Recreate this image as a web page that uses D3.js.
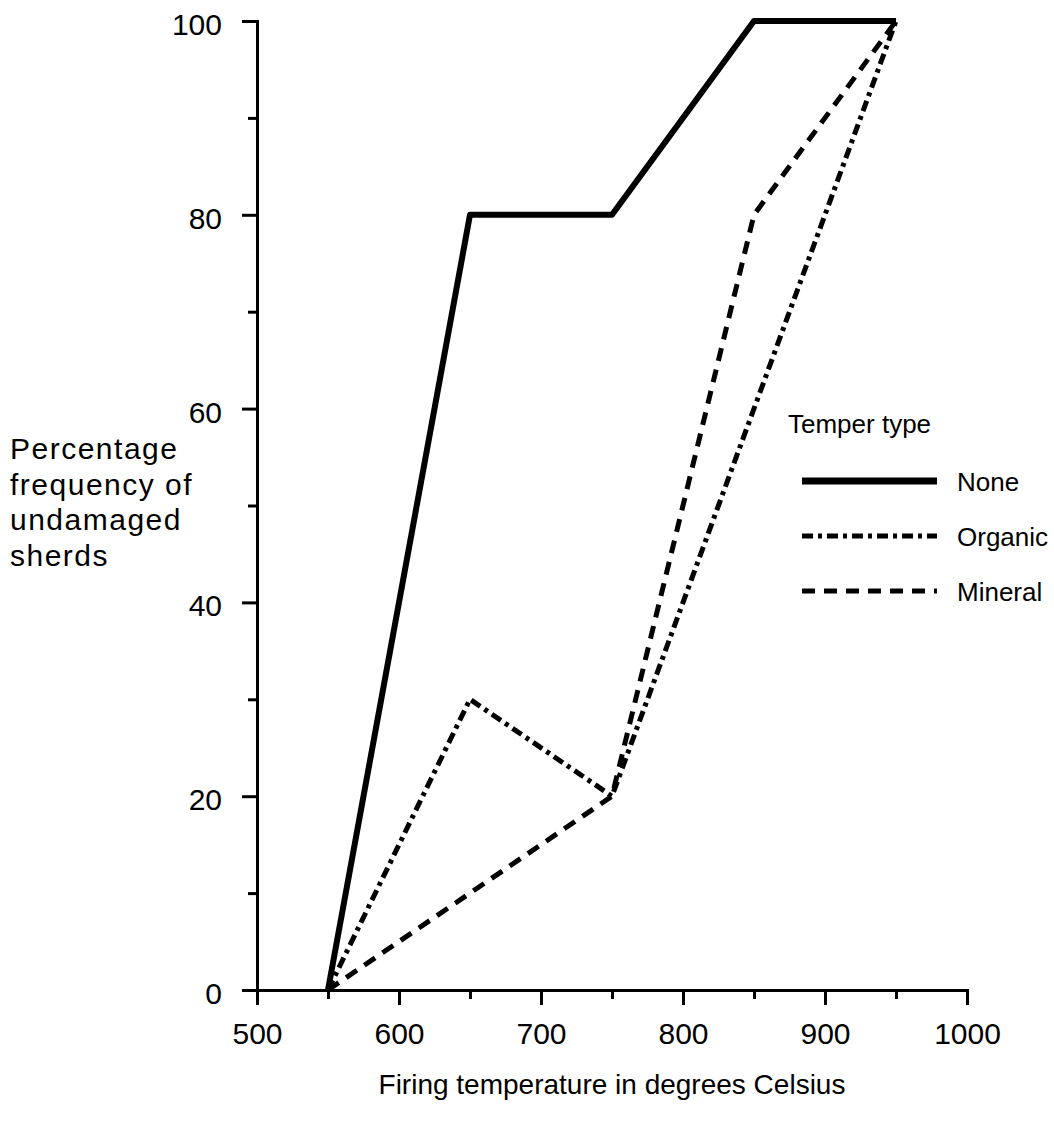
<!DOCTYPE html>
<html>
<head>
<meta charset="utf-8">
<script src="https://cdn.jsdelivr.net/npm/d3@7"></script>
<style>
  body { margin: 0; background: #fff; }
  text { font-family: "Liberation Sans", Arial, sans-serif; fill: #000; }
</style>
</head>
<body>
<div id="chart"></div>
<script>
// data
var temps = [550, 650, 750, 850, 950];
var noneVals = [0, 80, 80, 100, 100];
var organicTemps = [550, 650, 750, 950];
var organicVals = [0, 30, 20, 100];
var mineralVals = [0, 10, 20, 80, 100];

var xTicks = [500, 600, 700, 800, 900, 1000];
var xMinor = [550, 650, 750, 850, 950];
var yTicks = [0, 20, 40, 60, 80, 100];
var yMinor = [10, 30, 50, 70, 90];

var seriesNames = ["None", "Organic", "Mineral"];
var dashes = [null, "11,5,4,5", "13,9"];
var widths = [6, 5, 5];

function init(){
    var w = 1054, h = 1133;

    var xScale = d3.scaleLinear().domain([500, 1000]).range([257, 967]);
    var yScale = d3.scaleLinear().domain([0, 100]).range([990, 21]);

    var svg = d3.select("#chart").append("svg")
                .attr("width", w)
                .attr("height", h);

    // x axis, major then minor ticks
    var xAxis = svg.append("g")
        .attr("transform", "translate(0," + yScale(0) + ")")
        .call(d3.axisBottom(xScale).tickValues(xTicks).tickSize(15).tickPadding(18).tickFormat(d3.format("d")));
    svg.append("g")
        .attr("transform", "translate(0," + yScale(0) + ")")
        .call(d3.axisBottom(xScale).tickValues(xMinor).tickSize(9).tickFormat(""))
        .select(".domain").remove();

    // y axis
    var yAxis = svg.append("g")
        .attr("transform", "translate(" + xScale(500) + ",0)")
        .call(d3.axisLeft(yScale).tickValues(yTicks).tickSize(15).tickPadding(20));
    svg.append("g")
        .attr("transform", "translate(" + xScale(500) + ",0)")
        .call(d3.axisLeft(yScale).tickValues(yMinor).tickSize(9).tickFormat(""))
        .select(".domain").remove();

    svg.selectAll(".domain").attr("stroke-width", 3);
    svg.selectAll(".tick line").attr("stroke-width", 3);
    svg.selectAll(".tick text").style("font-size", "30px");
    xAxis.selectAll(".tick text").attr("dy", "0.71em");
    yAxis.selectAll(".tick text").attr("dy", "0.45em");

    // lines
    var line = d3.line()
        .x(function(d){ return xScale(d[0]); })
        .y(function(d){ return yScale(d[1]); });

    var seriesData = [
        d3.zip(temps, noneVals),
        d3.zip(organicTemps, organicVals),
        d3.zip(temps, mineralVals)
    ];

    svg.selectAll("path.series")
        .data(seriesData)
        .enter()
        .append("path")
        .attr("class", "series")
        .attr("d", line)
        .attr("fill", "none")
        .attr("stroke", "#000")
        .attr("stroke-width", function(d, i){ return widths[i]; })
        .attr("stroke-dasharray", function(d, i){ return dashes[i]; })
        .attr("stroke-linejoin", "round");

    // legend
    svg.append("text")
        .attr("x", 788)
        .attr("y", 433)
        .style("font-size", "26px")
        .text("Temper type");

    var legend = svg.selectAll("g.legend")
        .data(seriesNames)
        .enter()
        .append("g")
        .attr("class", "legend")
        .attr("transform", function(d, i){ return "translate(0," + (481 + i * 55) + ")"; });

    legend.append("line")
        .attr("x1", 802).attr("x2", 937)
        .attr("y1", 0).attr("y2", 0)
        .attr("stroke", "#000")
        .attr("stroke-width", function(d, i){ return i == 0 ? 7 : widths[i]; })
        .attr("stroke-dasharray", function(d, i){ return dashes[i]; });

    legend.append("text")
        .attr("x", 957)
        .attr("y", 1)
        .attr("dy", "0.35em")
        .style("font-size", "26px")
        .text(function(d){ return d; });

    // axis titles
    var yLabel = ["Percentage", "frequency of", "undamaged", "sherds"];
    svg.append("text")
        .style("font-size", "30px")
        .style("letter-spacing", "1.5px")
        .selectAll("tspan")
        .data(yLabel)
        .enter()
        .append("tspan")
        .attr("x", 10)
        .attr("y", function(d, i){ return 459 + i * 35.5; })
        .text(function(d){ return d; });

    svg.append("text")
        .attr("x", 612)
        .attr("y", 1094)
        .attr("text-anchor", "middle")
        .style("font-size", "28px")
        .text("Firing temperature in degrees Celsius");
}

window.onload = init;
</script>
</body>
</html>
